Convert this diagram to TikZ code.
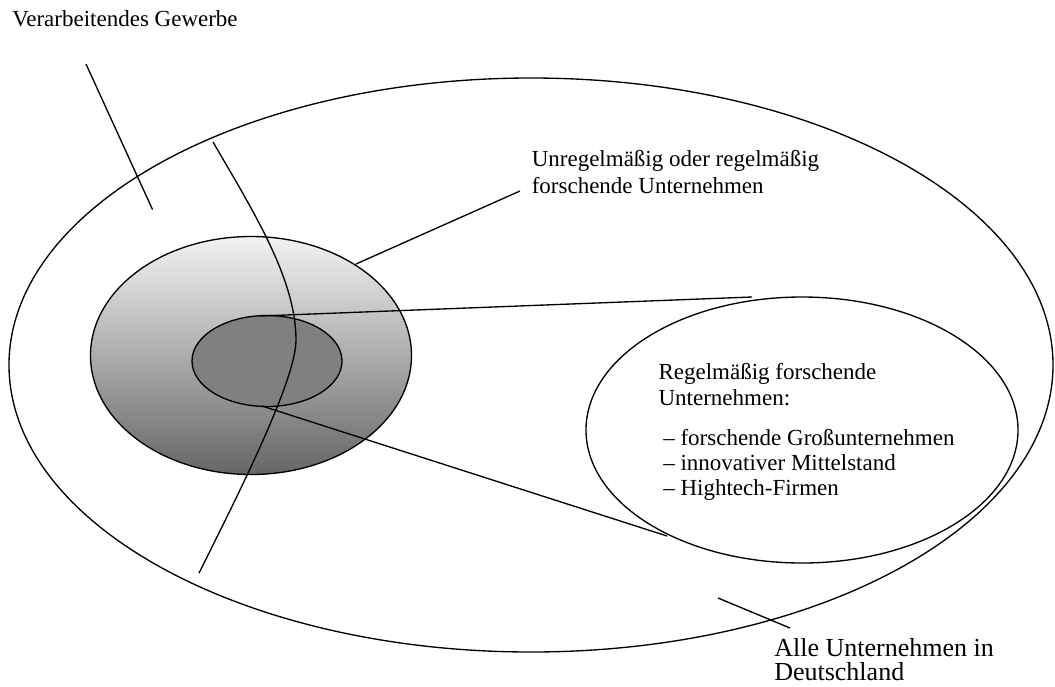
\documentclass[tikz,border=0pt]{standalone}
\usepackage{fontspec}
\setmainfont{Liberation Serif}

\begin{document}
\begin{tikzpicture}[x=0.75pt,y=0.75pt,yscale=-1,xscale=1,
  outline/.style={line width=1pt},
  lbl/.style={anchor=base west,inner sep=0pt,font=\fontsize{17.25}{20}\selectfont},
  biglbl/.style={anchor=base west,inner sep=0pt,font=\fontsize{19.5}{22}\selectfont}]
\useasboundingbox (0,0) rectangle (1055,686);

%Ellipse: alle Unternehmen
\draw[outline] (531,365) ellipse [x radius=522, y radius=287];
%Ellipse: forschende Unternehmen (shaded)
\draw[outline,top color=black!5,bottom color=black!60] (251,355.5) ellipse [x radius=160.5, y radius=119];
%Ellipse: regelmaessig forschende (kern)
\draw[outline,fill=black!50] (267,361) ellipse [x radius=75, y radius=45.5];
%Curve: verarbeitendes Gewerbe
\draw[outline] (213,142) .. controls (255,214) and (296,280) .. (296,340)
  .. controls (296,380) and (239,493) .. (199,573);
%Ellipse: zoom
\draw[outline] (802,430) ellipse [x radius=216, y radius=133];

%Coordinates
\coordinate (gwStart) at (86,64);
\coordinate (gwEnd) at (152.5,209.5);
\coordinate (fuRim) at (356,264);
\coordinate (fuEnd) at (520,191);
\coordinate (kernTop) at (260,316);
\coordinate (zoomTop) at (752,297);
\coordinate (kernBot) at (262,406);
\coordinate (zoomBot) at (667,536);
\coordinate (alleStart) at (718,598);
\coordinate (alleEnd) at (790,628);

%Straight Lines
\draw[outline] (gwStart) -- (gwEnd);
\draw[outline] (fuRim) -- (fuEnd);
\draw[outline] (kernTop) -- (zoomTop);
\draw[outline] (kernBot) -- (zoomBot);
\draw[outline] (alleStart) -- (alleEnd);

% Text Node
\node[lbl] (gwText) at (12,26.7) {Verarbeitendes Gewerbe};
% Text Node
\node[lbl] (fuText1) at (531.5,166.7) {Unregelmäßig oder regelmäßig};
\node[lbl] (fuText2) at (531.5,193.3) {forschende Unternehmen};
% Text Node
\node[lbl] (rfText1) at (658.3,379.3) {Regelmäßig forschende};
\node[lbl] (rfText2) at (658.3,405) {Unternehmen:};
\node[lbl] (rfItem1) at (663,445) {– forschende Großunternehmen};
\node[lbl] (rfItem2) at (663,470.3) {– innovativer Mittelstand};
\node[lbl] (rfItem3) at (663,495.7) {– Hightech-Firmen};
% Text Node
\node[biglbl] (alleText1) at (774,656.7) {Alle Unternehmen in};
\node[biglbl] (alleText2) at (774,680.5) {Deutschland};

\end{tikzpicture}
\end{document}
